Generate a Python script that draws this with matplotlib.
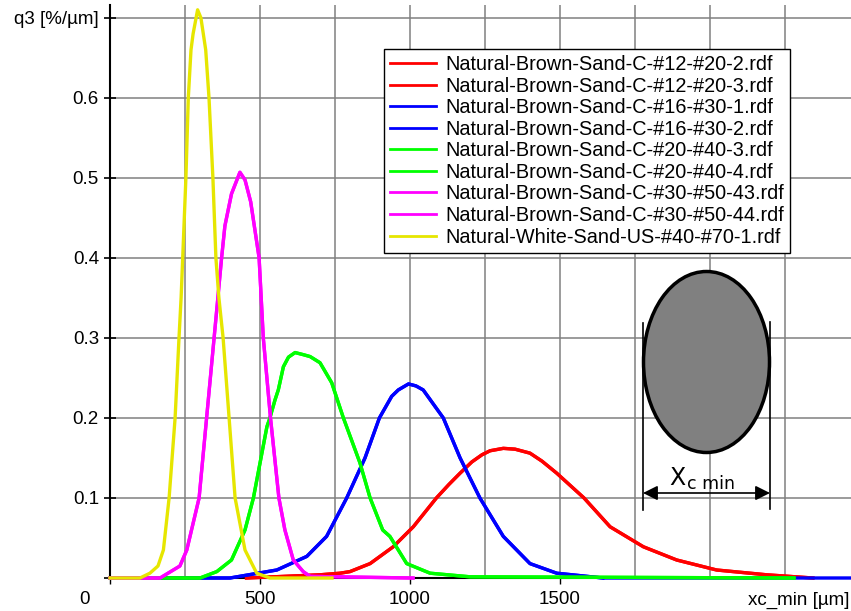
import matplotlib.pyplot as plt
from matplotlib.patches import Ellipse

plt.rcParams['font.family'] = ['Liberation Sans', 'DejaVu Sans']

# --- data (x in µm, q3 in %/µm) ---
red_x = [455, 700, 767, 800, 867, 944, 1011, 1088, 1130, 1167, 1206, 1240, 1267, 1311, 1350,
         1400, 1440, 1489, 1580, 1667, 1778, 1889, 2022, 2189, 2343]
red_y = [0, 0.004, 0.006, 0.008, 0.018, 0.039, 0.064, 0.1, 0.117, 0.131, 0.145, 0.154, 0.159,
         0.162, 0.161, 0.156, 0.146, 0.131, 0.1, 0.064, 0.039, 0.0225, 0.01, 0.004, 0]

blue_x = [0, 400, 556, 656, 722, 789, 850, 898, 939, 961, 995, 1020, 1044,
          1111, 1167, 1233, 1311, 1400, 1489, 1643]
blue_y = [0, 0, 0.01, 0.027, 0.052, 0.1, 0.15, 0.2, 0.227, 0.235, 0.2425, 0.24, 0.235,
          0.2, 0.15, 0.1, 0.052, 0.018, 0.006, 0]
blue2_x = blue_x + [2470]
blue2_y = blue_y + [0]

green_x = [0, 300, 356, 405, 450, 478, 523, 533, 550, 561, 578, 595, 617, 645, 667,
           700, 739, 778, 833, 867, 909, 933, 989, 1067, 1200, 2280]
green_y = [0, 0, 0.008, 0.0225, 0.06, 0.1, 0.189, 0.2, 0.2225, 0.235, 0.264, 0.276, 0.2817,
           0.279, 0.2767, 0.269, 0.244, 0.2, 0.144, 0.1, 0.06, 0.052, 0.018, 0.006, 0.0015, 0]

magenta_x = [0, 167, 233, 256, 297, 322, 347, 372, 383, 405, 433, 450, 469,
             497, 511, 535, 563, 583, 611, 644, 667, 1010]
magenta_y = [0, 0, 0.015, 0.035, 0.1, 0.2, 0.3, 0.4, 0.44, 0.48, 0.507, 0.4975, 0.47,
             0.4, 0.3, 0.2, 0.1, 0.06, 0.0225, 0.008, 0.002, 0]

yellow_x = [0, 100, 133, 160, 178, 197, 217, 230, 237, 253, 261, 270, 277, 292, 303,
            319, 330, 343, 353, 363, 377, 397, 417, 450, 489, 533, 740]
yellow_y = [0, 0, 0.006, 0.015, 0.035, 0.1, 0.2, 0.3, 0.35, 0.5, 0.6, 0.66, 0.68, 0.71, 0.70,
            0.66, 0.6, 0.5, 0.4, 0.35, 0.3, 0.2, 0.1, 0.035, 0.006, 0, 0]

series = [
    ('Natural-Brown-Sand-C-#12-#20-2.rdf', red_x, red_y, '#ff0000'),
    ('Natural-Brown-Sand-C-#12-#20-3.rdf', red_x, red_y, '#ff0000'),
    ('Natural-Brown-Sand-C-#16-#30-1.rdf', blue_x, blue_y, '#0000ff'),
    ('Natural-Brown-Sand-C-#16-#30-2.rdf', blue2_x, blue2_y, '#0000ff'),
    ('Natural-Brown-Sand-C-#20-#40-3.rdf', green_x, green_y, '#00ff00'),
    ('Natural-Brown-Sand-C-#20-#40-4.rdf', green_x, green_y, '#00ff00'),
    ('Natural-Brown-Sand-C-#30-#50-43.rdf', magenta_x, magenta_y, '#ff00ff'),
    ('Natural-Brown-Sand-C-#30-#50-44.rdf', magenta_x, magenta_y, '#ff00ff'),
    ('Natural-White-Sand-US-#40-#70-1.rdf', yellow_x, yellow_y, '#e6e600'),
]

W, H = 851, 611
fig = plt.figure(figsize=(W / 100, H / 100), dpi=100)
ax = fig.add_axes([110 / W, 33 / H, 1 - 110 / W, (578 - 5) / H])

for label, x, y, c in series:
    ax.plot(x, y, color=c, lw=2.4, label=label, zorder=3, clip_on=False)

ax.set_xlim(0, 2470)
ax.set_ylim(0, 0.716)

# grid
ax.set_xticks([0, 500, 1000, 1500])
ax.set_xticklabels(['', '500', '1000', '1500'])
ax.set_xticks([250, 750, 1250, 1750, 2000, 2250], minor=True)
ax.set_yticks([0, 0.1, 0.2, 0.3, 0.4, 0.5, 0.6, 0.7])
ax.set_yticklabels(['', '0.1', '0.2', '0.3', '0.4', '0.5', '0.6', 'q3 [%/µm]'])
ax.grid(True, which='both', color='#808080', lw=1.1)
ax.set_axisbelow(True)
ax.tick_params(axis='y', direction='inout', length=8, width=1.2, labelsize=13.5, pad=4)
ax.tick_params(axis='x', which='both', direction='out', length=4, width=1, labelsize=13.5, pad=5)
ax.tick_params(axis='x', which='minor', length=0)
for s in ['top', 'right']:
    ax.spines[s].set_visible(False)
ax.spines['left'].set_linewidth(1.5)
ax.spines['bottom'].set_linewidth(1.5)
fig.text(85 / W, 1 - 600 / H, '0', ha='center', va='center', fontsize=13.5)
fig.text(799 / W, 1 - 600 / H, 'xc_min [µm]', ha='center', va='center', fontsize=13.5)

leg = ax.legend(loc='upper left', bbox_to_anchor=(384 / W, 1 - 49 / H),
                bbox_transform=fig.transFigure, borderaxespad=0, fontsize=14.3,
                handlelength=2.3, handletextpad=0.5, labelspacing=0.13,
                borderpad=0.3, fancybox=False, framealpha=1, edgecolor='black')
leg.get_frame().set_linewidth(1.0)
for h in leg.get_lines():
    h.set_linewidth(2)

# particle sketch (overlay in pixel coordinates)
ov = fig.add_axes([0, 0, 1, 1])
ov.set_xlim(0, W)
ov.set_ylim(H, 0)
ov.axis('off')
ov.add_patch(Ellipse((706.5, 362), 126, 181, facecolor='#808080', edgecolor='black', lw=2.5))
ov.plot([643, 643], [323, 510], color='black', lw=1.2)
ov.plot([770, 770], [322, 509], color='black', lw=1.2)
ov.annotate('', xy=(643, 493), xytext=(770, 493),
            arrowprops=dict(arrowstyle='<|-|>', color='black', lw=1.2,
                            mutation_scale=22, shrinkA=0, shrinkB=0))
ov.text(669, 485, 'X', fontsize=17, family='DejaVu Sans', ha='left', va='baseline')
ov.text(687, 489, 'c min', fontsize=12.5, family='DejaVu Sans', ha='left', va='baseline')

fig.savefig('out.png', dpi=100)
